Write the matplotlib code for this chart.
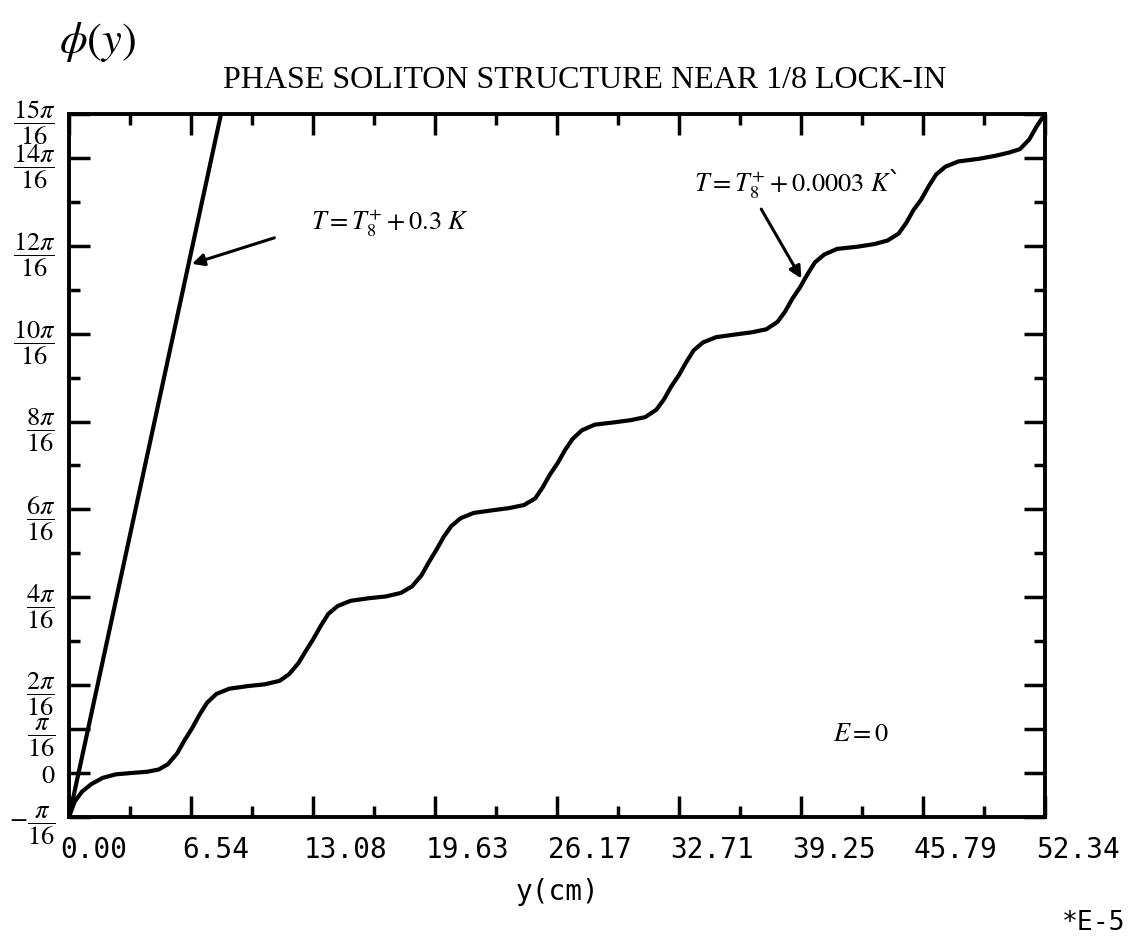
import numpy as np
import matplotlib
matplotlib.use('Agg')
import matplotlib.pyplot as plt
import matplotlib.transforms as mtransforms
from matplotlib.ticker import FixedLocator

plt.rcParams['mathtext.fontset'] = 'stix'

# position along y (units of 1E-5 cm)
y_ticks = [0.00, 6.54, 13.08, 19.63, 26.17, 32.71, 39.25, 45.79, 52.34]

# phase in units of pi/16
phi_ticks = [-1, 0, 1, 2, 4, 6, 8, 10, 12, 14, 15]
phi_labels = [r'$-\dfrac{\pi}{16}$', r'$\mathit{0}$', r'$\dfrac{\pi}{16}$', r'$\dfrac{2\pi}{16}$',
              r'$\dfrac{4\pi}{16}$', r'$\dfrac{6\pi}{16}$', r'$\dfrac{8\pi}{16}$',
              r'$\dfrac{10\pi}{16}$', r'$\dfrac{12\pi}{16}$', r'$\dfrac{14\pi}{16}$',
              r'$\dfrac{15\pi}{16}$']

# T = T8+ + 0.3 K : nearly uniform winding
warm_y = [0.0, 8.15]
warm_phi = [-1.0, 15.0]

# T = T8+ + 0.0003 K : soliton staircase
cold_y = [0.0, 0.3, 0.7, 1.2, 1.8, 2.5, 3.3, 4.2, 4.8, 5.3, 5.8, 6.2, 6.6, 7.0, 7.4, 7.9, 8.6, 9.6,
          10.5, 11.3, 11.8, 12.3, 12.7, 13.1, 13.5, 13.9, 14.4, 15.1, 16.1,
          17.0, 17.8, 18.4, 18.9, 19.3, 19.7, 20.1, 20.5, 21.0, 21.7, 22.7,
          23.6, 24.4, 25.0, 25.4, 25.8, 26.2, 26.6, 27.0, 27.5, 28.2, 29.2,
          30.1, 30.9, 31.5, 31.9, 32.3, 32.7, 33.1, 33.5, 34.0, 34.7, 35.7,
          36.6, 37.4, 38.0, 38.4, 38.8, 39.2, 39.6, 40.0, 40.5, 41.2, 42.3,
          43.2, 43.9, 44.5, 44.9, 45.3, 45.7, 46.1, 46.5, 47.0, 47.7, 48.8,
          49.7, 50.4, 51.0, 51.5, 51.9, 52.34]
cold_phi = [-1.0, -0.65, -0.42, -0.25, -0.11, -0.03, 0.0, 0.03, 0.08, 0.2, 0.45, 0.75, 1.02, 1.33, 1.6, 1.8, 1.92, 1.98,
            2.02, 2.1, 2.25, 2.5, 2.78, 3.05, 3.35, 3.62, 3.8, 3.92, 3.98,
            4.02, 4.1, 4.25, 4.5, 4.8, 5.08, 5.38, 5.62, 5.8, 5.92, 5.98,
            6.03, 6.1, 6.25, 6.5, 6.8, 7.05, 7.35, 7.6, 7.8, 7.93, 7.98,
            8.03, 8.1, 8.27, 8.5, 8.8, 9.05, 9.35, 9.62, 9.8, 9.92, 9.98,
            10.03, 10.1, 10.27, 10.5, 10.8, 11.05, 11.35, 11.62, 11.8, 11.93, 11.98,
            12.04, 12.12, 12.28, 12.52, 12.82, 13.05, 13.35, 13.62, 13.8, 13.92, 13.98,
            14.05, 14.12, 14.2, 14.42, 14.72, 15.0]

u = np.pi / 16

fig = plt.figure(figsize=(11.47, 9.42), dpi=100)
ax = fig.add_axes([0.0602, 0.1327, 0.8508, 0.7463])

ax.plot(warm_y, np.array(warm_phi) * u, color='black', lw=3.0, solid_capstyle='round')
ax.plot(cold_y, np.array(cold_phi) * u, color='black', lw=3.0, solid_joinstyle='round')

ax.set_xlim(0, 52.34)
ax.set_ylim(-u, 15 * u)

# ticks on every side, pointing in
ax.xaxis.set_major_locator(FixedLocator(y_ticks))
ax.xaxis.set_minor_locator(FixedLocator([(a + b) / 2 for a, b in zip(y_ticks[:-1], y_ticks[1:])]))
ax.set_xticklabels(['%.2f' % v for v in y_ticks], fontfamily='DejaVu Sans Mono', fontsize=20)
ax.yaxis.set_major_locator(FixedLocator([p * u for p in phi_ticks]))
ax.yaxis.set_minor_locator(FixedLocator([p * u for p in range(-1, 16) if p not in phi_ticks]))
ax.set_yticklabels(phi_labels, fontsize=19)
ax.tick_params(which='both', direction='in', top=True, right=True, width=2.5, color='black')
ax.tick_params(which='major', length=15)
ax.tick_params(which='minor', length=8)
ax.tick_params(axis='x', pad=14)
ax.tick_params(axis='y', pad=10)
for s in ax.spines.values():
    s.set_linewidth(2.8)

shift = mtransforms.ScaledTranslation(-9 / 100, 0, fig.dpi_scale_trans)
for lab in ax.get_xticklabels():
    lab.set_horizontalalignment('left')
    lab.set_transform(lab.get_transform() + shift)

ax.set_xlabel('y(cm)', fontfamily='DejaVu Sans Mono', fontsize=20, labelpad=10)

fig.text(0.51, 0.915, 'PHASE SOLITON STRUCTURE NEAR 1/8 LOCK-IN',
         ha='center', va='center', fontfamily='Liberation Serif', fontsize=23)
fig.text(0.085, 0.955, r'$\phi(y)$', ha='center', va='center', fontsize=32)
fig.text(0.953, 0.006, '*E-5', ha='center', va='bottom', fontfamily='DejaVu Sans Mono', fontsize=19)

# curve labels with pointers
ax.text(17.2, 12.52 * u, r'$T = T_8^{+} + 0.3\ K$', ha='center', va='center', fontsize=19)
ax.annotate('', xy=(6.45, 11.57 * u), xytext=(11.15, 12.2 * u),
            arrowprops=dict(arrowstyle='-|>', color='black', lw=2.2, mutation_scale=18))
ax.text(39.0, 13.39 * u, r'$T = T_8^{+} + 0.0003\ K$`', ha='center', va='center', fontsize=19)
ax.annotate('', xy=(39.35, 11.2 * u), xytext=(37.05, 12.89 * u),
            arrowprops=dict(arrowstyle='-|>', color='black', lw=2.2, mutation_scale=18))
ax.text(42.5, 0.89 * u, r'$E = 0$', ha='center', va='center', fontsize=19)

fig.savefig('out.png', dpi=100)
